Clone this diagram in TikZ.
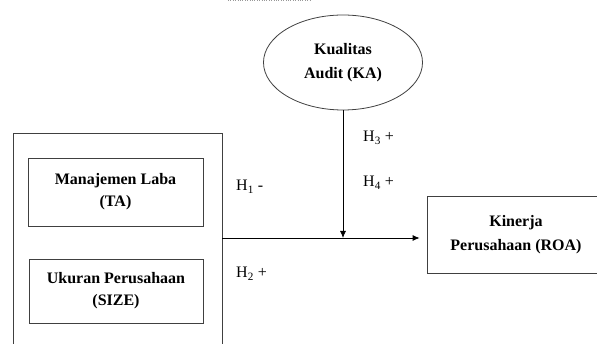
\documentclass[tikz,border=0pt]{standalone}
\usepackage{fontspec}
\setmainfont{Liberation Serif}
\usetikzlibrary{positioning, shapes, arrows.meta}

\begin{document}
\begin{tikzpicture}[
      x=1pt, y=-1pt,
      var/.style={rectangle, draw=black!75, line width=0.8pt, align=center, font=\fontsize{16}{22}\selectfont\bfseries},
      mod/.style={ellipse, draw=black!75, line width=0.8pt, align=center, inner sep=0pt, minimum width=159pt, minimum height=95pt, font=\fontsize{16}{24}\selectfont\bfseries},
      hyp/.style={anchor=base west, inner sep=0pt, font=\fontsize{16}{18}\selectfont},
      arr/.style={-{Latex[width=6pt, length=7pt]}, line width=0.8pt}]

      \useasboundingbox (0,0) rectangle (597,344);
      \clip (0,0) rectangle (597,344);

      \node[mod] (ka) at (343,62.5) {Kualitas\\Audit (KA)};

      \node[var, minimum width=209pt, minimum height=227pt] (grp) at (117.5,246.5) {}; % x1 + x2
      \node[var, minimum width=175pt, minimum height=68pt] (ta) at (115.5,192) {Manajemen Laba\\(TA)};
      \node[var, minimum width=174pt, minimum height=64pt] (size) at (116,291) {Ukuran Perusahaan\\(SIZE)};

      \node[var, minimum width=178pt, minimum height=77pt, font=\fontsize{16}{24}\selectfont\bfseries] (roa) at (516,234.5) {Kinerja\\Perusahaan (ROA)};

      \coordinate (j) at (ka.south |- 0,238);

      \draw[arr, shorten >=7pt] (grp.east |- j) -- (roa.west |- j);
      \draw[arr] (ka.south) -- (j);

      \node[hyp] (h1) at (236,191) {H\textsubscript{1} -};
      \node[hyp] (h2) at (236,278) {H\textsubscript{2} +};
      \node[hyp] (h3) at (363,142) {H\textsubscript{3} +};
      \node[hyp] (h4) at (363,187) {H\textsubscript{4} +};

      % page remnant
      \draw[black!40, dotted] (228,0.5) -- (310,0.5);
\end{tikzpicture}
\end{document}
